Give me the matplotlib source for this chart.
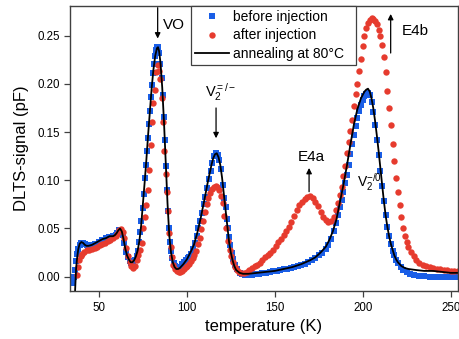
import matplotlib
matplotlib.use("Agg")
import matplotlib.pyplot as plt

plt.rcParams['font.family'] = ['Liberation Sans', 'DejaVu Sans']
plt.rcParams['mathtext.fontset'] = 'custom'
plt.rcParams['mathtext.rm'] = 'Liberation Sans'
plt.rcParams['mathtext.it'] = 'Liberation Sans:italic'

# before injection (blue squares)
t_before = [35.4, 35.8, 36.3, 36.9, 37.6, 38.2, 39.0, 40.0, 41.0, 42.0, 43.0, 44.0, 45.0,
            46.5, 48.0, 50.0, 52.0, 54.0, 56.0, 58.0, 59.5, 60.5, 61.5, 62.5, 63.5, 64.5,
            65.5, 66.5, 67.5, 68.5, 69.5, 70.5, 71.5, 72.3, 73.0, 73.6, 74.2, 74.8, 75.4,
            76.0, 76.6, 77.2, 77.8, 78.4, 79.0, 79.6, 80.2, 80.8, 81.4, 82.0, 82.6, 83.2,
            83.8, 84.4, 85.0, 85.6, 86.2, 86.8, 87.4, 88.0, 88.6, 89.2, 89.8, 90.4, 91.0,
            91.8, 92.6, 93.5, 94.5, 95.5, 96.5, 97.5, 98.5, 99.5, 100.5, 101.5, 102.5,
            103.5, 104.5, 105.5, 106.5, 107.5, 108.5, 109.5, 110.5, 111.5, 112.5, 113.5,
            114.5, 115.5, 116.5, 117.5, 118.5, 119.5, 120.5, 121.3, 122.0, 122.7, 123.4,
            124.1, 124.8, 125.6, 126.4, 127.4, 128.5, 130.0, 131.5, 133.0, 135, 137, 139,
            141, 143, 145, 147, 149, 151, 153, 155, 157, 159, 161, 163, 165, 167, 169, 171,
            173, 175, 177, 179, 180.5, 182, 183.5, 185, 186, 187, 188, 189, 190, 191, 192,
            193, 194, 195, 196, 197, 198, 199, 200, 201, 202, 203, 204, 205, 206, 207, 208,
            209, 210, 211, 212, 213, 214, 215, 216, 217, 218, 219, 220, 221.5, 223, 225,
            227, 229, 232, 235, 238, 241, 244, 247, 250, 253]
s_before = [-0.007, 0.000, 0.007, 0.016, 0.024, 0.029, 0.033, 0.035, 0.035, 0.034, 0.033,
            0.032, 0.032, 0.033, 0.034, 0.036, 0.038, 0.040, 0.041, 0.042, 0.043, 0.045,
            0.048, 0.047, 0.043, 0.035, 0.026, 0.020, 0.016, 0.014, 0.014, 0.017, 0.021,
            0.027, 0.036, 0.046, 0.058, 0.071, 0.086, 0.102, 0.116, 0.130, 0.144, 0.158,
            0.172, 0.186, 0.199, 0.211, 0.221, 0.229, 0.235, 0.238, 0.238, 0.232, 0.221,
            0.206, 0.188, 0.166, 0.142, 0.115, 0.090, 0.068, 0.050, 0.036, 0.027, 0.019,
            0.014, 0.011, 0.009, 0.009, 0.010, 0.013, 0.015, 0.017, 0.019, 0.020, 0.024,
            0.029, 0.035, 0.042, 0.050, 0.058, 0.066, 0.075, 0.083, 0.092, 0.101, 0.110,
            0.118, 0.125, 0.128, 0.126, 0.121, 0.112, 0.095, 0.082, 0.072, 0.060, 0.050,
            0.041, 0.033, 0.025, 0.018, 0.012, 0.008, 0.004, 0.003, 0.002, 0.002, 0.002,
            0.003, 0.003, 0.0035, 0.004, 0.005, 0.006, 0.006, 0.007, 0.008, 0.008, 0.009,
            0.010, 0.011, 0.012, 0.013, 0.015, 0.017, 0.019, 0.022, 0.025, 0.029, 0.033,
            0.039, 0.047, 0.056, 0.064, 0.072, 0.080, 0.088, 0.097, 0.106, 0.116, 0.127,
            0.138, 0.147, 0.156, 0.165, 0.172, 0.178, 0.183, 0.187, 0.190, 0.191, 0.188,
            0.181, 0.171, 0.157, 0.142, 0.126, 0.110, 0.094, 0.079, 0.064, 0.052, 0.042,
            0.034, 0.027, 0.022, 0.017, 0.014, 0.010, 0.007, 0.005, 0.003, 0.002, 0.001,
            0.001, 0.000, 0.000, 0.000, 0.000, 0.000, 0.000]

# after injection (red circles)
t_after = [37.6, 38.3, 38.9, 39.6, 40.4, 41.5, 43.0, 44.5, 46.0, 47.5, 49.0, 50.5, 52.0,
           53.5, 55.0, 56.5, 58.0, 59.5, 60.5, 61.5, 62.5, 63.5, 64.5, 65.5, 66.5, 67.5,
           68.5, 69.5, 70.5, 71.4, 72.3, 73.3, 74.3, 75.3, 76.2, 77.0, 77.8, 78.6, 79.4,
           80.2, 81.0, 81.9, 82.7, 83.4, 84.2, 85.0, 85.8, 86.5, 87.2, 87.9, 88.6, 89.3,
           90.0, 90.7, 91.4, 92.3, 93.3, 94.3, 95.3, 96.3, 97.3, 98.3, 99.3, 100.3, 101.3,
           102.3, 103.3, 104.3, 105.3, 106.3, 107.3, 108.3, 109.3, 110.3, 111.3, 112.3,
           113.3, 114.3, 115.3, 116.3, 117.3, 118.3, 119.3, 120.3, 121.3, 122.3, 123.3,
           124.3, 125.3, 126.3, 127.3, 128.3, 129.5, 131, 132.5, 134, 135.5, 137, 138.5,
           140, 141.5, 143, 144.5, 146, 147.5, 149, 150.5, 152, 153.5, 155, 156.5, 158,
           159.5, 161, 162.5, 164, 165.5, 167, 168.5, 170, 171.5, 173, 174.5, 176, 177.5,
           179, 180.5, 182, 183.5, 185, 186, 187, 188, 189, 190, 191, 192, 193, 194, 195,
           196, 197, 198, 199, 200, 201, 202, 203, 204, 205, 206, 207, 208, 209, 210, 211,
           212, 213, 214, 215, 216, 217, 218, 219, 220, 221, 222, 223, 224, 225, 226,
           227.5, 229, 230.5, 232, 234, 236, 238, 240, 242, 244, 246, 248, 250, 252, 254]
s_after = [0.002, 0.010, 0.017, 0.021, 0.024, 0.026, 0.028, 0.028, 0.029, 0.030, 0.031,
           0.033, 0.034, 0.035, 0.037, 0.038, 0.040, 0.042, 0.044, 0.048, 0.049, 0.046,
           0.040, 0.030, 0.021, 0.015, 0.011, 0.009, 0.011, 0.017, 0.022, 0.028, 0.035,
           0.050, 0.062, 0.074, 0.090, 0.111, 0.137, 0.160, 0.180, 0.194, 0.212, 0.220,
           0.213, 0.205, 0.185, 0.160, 0.130, 0.107, 0.088, 0.068, 0.045, 0.031, 0.020,
           0.012, 0.008, 0.006, 0.005, 0.005, 0.006, 0.008, 0.010, 0.011, 0.013, 0.016,
           0.019, 0.023, 0.027, 0.034, 0.040, 0.049, 0.058, 0.067, 0.075, 0.082, 0.087,
           0.091, 0.093, 0.094, 0.093, 0.090, 0.084, 0.076, 0.063, 0.050, 0.037, 0.028,
           0.021, 0.015, 0.010, 0.007, 0.005, 0.004, 0.0035, 0.005, 0.007, 0.009, 0.011,
           0.012, 0.014, 0.017, 0.020, 0.022, 0.025, 0.028, 0.032, 0.036, 0.039, 0.043,
           0.047, 0.052, 0.057, 0.063, 0.069, 0.074, 0.078, 0.081, 0.083, 0.084, 0.082,
           0.078, 0.073, 0.067, 0.062, 0.059, 0.057, 0.058, 0.062, 0.069, 0.076, 0.085,
           0.093, 0.104, 0.115, 0.128, 0.140, 0.151, 0.163, 0.177, 0.189, 0.200, 0.213,
           0.226, 0.239, 0.250, 0.258, 0.263, 0.266, 0.268, 0.267, 0.265, 0.262, 0.256,
           0.250, 0.240, 0.228, 0.212, 0.193, 0.175, 0.157, 0.138, 0.120, 0.102, 0.088,
           0.074, 0.062, 0.051, 0.042, 0.036, 0.031, 0.026, 0.021, 0.017, 0.014, 0.012,
           0.011, 0.010, 0.009, 0.008, 0.008, 0.007, 0.007, 0.006, 0.006, 0.006]

# annealing at 80 C (black line)
t_anneal = [36.3, 37.0, 37.5, 38.2, 39.0, 40.0, 41, 42, 43, 44, 46, 48, 50, 52, 54, 56, 58,
            59, 60, 61, 62, 63, 64, 65, 66, 67, 68, 69, 70, 71, 72, 73, 74, 75, 76, 77, 78,
            79, 80, 81, 82, 83, 83.6, 84.2, 85, 86, 87, 88, 89, 90, 91, 92, 93, 94, 95, 96,
            98, 100, 102, 104, 106, 108, 110, 112, 114, 115, 116, 117, 118, 119, 120, 121,
            122, 123, 124, 125, 126, 127, 128, 130, 132, 135, 140, 145, 150, 155, 160, 165,
            170, 173, 176, 179, 181, 183, 185, 187, 189, 191, 193, 195, 197, 199, 201, 202,
            203, 204, 205, 206, 207, 208, 209, 210, 211, 212, 213, 214, 215, 216, 217, 218,
            219, 220, 222, 224, 226, 228, 230, 235, 240, 245, 250, 254]
s_anneal = [-0.020, 0.008, 0.018, 0.028, 0.034, 0.036, 0.035, 0.033, 0.032, 0.032, 0.033,
            0.035, 0.037, 0.039, 0.040, 0.042, 0.042, 0.043, 0.045, 0.048, 0.050, 0.047,
            0.039, 0.029, 0.022, 0.018, 0.015, 0.015, 0.017, 0.021, 0.027, 0.037, 0.053,
            0.075, 0.098, 0.122, 0.148, 0.172, 0.196, 0.215, 0.229, 0.237, 0.238, 0.234,
            0.222, 0.196, 0.160, 0.118, 0.076, 0.043, 0.025, 0.015, 0.010, 0.008, 0.008,
            0.009, 0.013, 0.018, 0.025, 0.033, 0.046, 0.062, 0.080, 0.099, 0.116, 0.123,
            0.127, 0.128, 0.124, 0.116, 0.103, 0.086, 0.068, 0.051, 0.036, 0.025, 0.017,
            0.011, 0.007, 0.004, 0.003, 0.003, 0.004, 0.005, 0.006, 0.008, 0.010, 0.013,
            0.017, 0.020, 0.025, 0.031, 0.038, 0.047, 0.059, 0.077, 0.095, 0.115, 0.137,
            0.158, 0.174, 0.185, 0.192, 0.194, 0.195, 0.192, 0.185, 0.175, 0.162, 0.147,
            0.131, 0.113, 0.096, 0.079, 0.064, 0.052, 0.042, 0.034, 0.028, 0.022, 0.018,
            0.015, 0.011, 0.009, 0.008, 0.0075, 0.007, 0.006, 0.006, 0.005, 0.004, 0.004]

blue = '#1a5ee6'
red = '#e63b2e'

fig = plt.figure(figsize=(4.6, 3.39), dpi=100)
ax = fig.add_axes([0.152, 0.1425, 0.8437, 0.8405])

ax.plot(t_before, s_before, 's', color=blue, ms=4.0, mew=0, label='before injection')
ax.plot(t_after, s_after, 'o', color=red, ms=4.6, mew=0, label='after injection')
ax.plot(t_anneal, s_anneal, '-', color='black', lw=1.3, label='annealing at 80°C')

ax.set_xlim(33.5, 254.2)
ax.set_ylim(-0.0145, 0.281)
ax.set_xticks([50, 100, 150, 200, 250])
ax.set_yticks([0.0, 0.05, 0.10, 0.15, 0.20, 0.25])
ax.set_yticklabels(['0.00', '0.05', '0.10', '0.15', '0.20', '0.25'])
ax.tick_params(direction='out', length=4.5, width=0.9, color='#404040', labelsize=8.3, pad=2.5)
ax.tick_params(axis='x', pad=4)
for sp in ax.spines.values():
    sp.set_color('#404040')
    sp.set_linewidth(1.0)

ax.set_xlabel('temperature (K)', fontsize=12, labelpad=3)
ax.set_ylabel('DLTS-signal (pF)', fontsize=12, labelpad=6)

# peak labels and arrows
arrow = dict(arrowstyle='-|>', color='black', lw=0.9, mutation_scale=8, shrinkA=0, shrinkB=0)
ax.annotate('', xy=(83.4, 0.247), xytext=(83.4, 0.279), arrowprops=arrow)
ax.text(86.4, 0.261, 'VO', fontsize=11, ha='left', va='center')

ax.annotate('', xy=(116.6, 0.1436), xytext=(116.6, 0.175), arrowprops=arrow)
ax.text(110.3, 0.1864, 'V$_2^{=/-}$', fontsize=10.5, ha='left', va='baseline')

ax.annotate('', xy=(169.5, 0.1128), xytext=(169.5, 0.0882), arrowprops=arrow)
ax.text(170.9, 0.1195, 'E4a', fontsize=11, ha='center', va='baseline')

ax.annotate('', xy=(215.9, 0.2725), xytext=(215.9, 0.232), arrowprops=arrow)
ax.text(222.2, 0.2505, 'E4b', fontsize=11, ha='left', va='baseline')

ax.text(197.0, 0.093, 'V$_2^{-/0}$', fontsize=10, ha='left', va='baseline')

leg = ax.legend(loc='upper left', bbox_to_anchor=(0.312, 0.809, 0.425, 0.191),
                mode='expand', borderaxespad=0,
                fontsize=10, fancybox=False, edgecolor='#404040', framealpha=1,
                handlelength=2.4, handletextpad=0.3, borderpad=0.3, labelspacing=0.32)
leg.get_frame().set_linewidth(0.9)

fig.savefig('out.png', dpi=100)
